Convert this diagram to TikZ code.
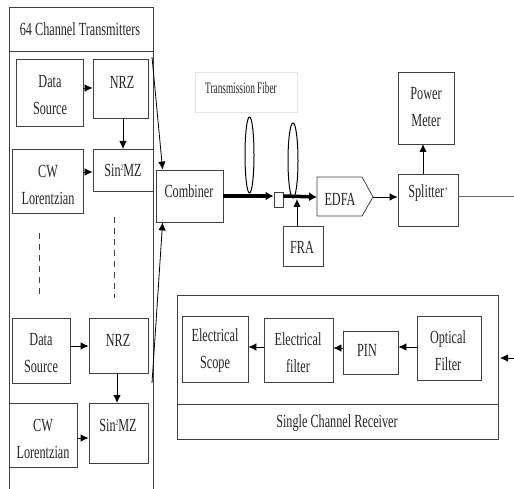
\documentclass[tikz,border=0pt]{standalone}
\usepackage{fontspec}
\setmainfont{Liberation Serif}
\newfontfamily\condfont[FakeStretch=0.66]{Liberation Serif}
\newfontfamily\smallcondfont[FakeStretch=0.58]{Liberation Serif}
\newcommand{\sqsup}{\raisebox{5.5pt}{\fontsize{8}{8}\selectfont 2}}
\usetikzlibrary{arrows.meta,calc}
\begin{document}
\begin{tikzpicture}[x=1pt,y=-1pt,
  box/.style={draw=black!75,line width=0.8pt,inner sep=0pt,fill=white},
  lbl/.style={inner sep=0pt,align=center,font=\condfont\fontsize{18.5}{27}\selectfont,text=black!85},
  arr/.style={draw=black,line width=0.8pt,-{Latex[length=8pt,width=7.5pt]}},
  thick arr/.style={draw=black,line width=3.5pt,-{Latex[length=8pt,width=9pt]}},
  dash line/.style={draw=black!75,line width=0.9pt,dash pattern=on 6pt off 5pt}]
\useasboundingbox (0,0) rectangle (514,489);
% transmitter frame
\draw[draw=black!75,line width=0.8pt] (9,489) -- (9,7) -- (153,7) -- (153,489);
\draw[draw=black!75,line width=0.8pt] (9,51) -- (153,51);
\node[lbl] (ttitle) at (80,29) {64 Channel Transmitters};
% channel 1
\node[box,minimum width=67pt,minimum height=67pt] (ds1) at (49.5,92.5) {};
\node[lbl] (ds1t) at (50,95) {Data\\Source};
\node[box,minimum width=55pt,minimum height=59pt] (nrz1) at (120.5,88.5) {};
\node[lbl] (nrz1t) at (122,82) {NRZ};
\node[box,minimum width=71pt,minimum height=64pt] (cw1) at (47.5,181) {};
\node[lbl] (cw1t) at (48,185) {CW\\Lorentzian};
\node[box,minimum width=60pt,minimum height=42pt] (mz1) at (123,170) {};
\node[lbl] (mz1t) at (123,170) {Sin\sqsup MZ};
\draw[arr] (ds1.east |- 0,88) -- (nrz1.west |- 0,88);
\draw[arr] (123,118) -- (123,149);
\draw[arr] (cw1.east |- 0,172) -- (mz1.west |- 0,172);
% dashed continuation
\draw[dash line] (39,233) -- (39,298);
\draw[dash line] (114,217) -- (114,298);
% channel 64
\node[box,minimum width=58pt,minimum height=65pt] (ds2) at (41,350.5) {};
\node[lbl] (ds2t) at (41,353.5) {Data\\Source};
\node[box,minimum width=59pt,minimum height=55pt] (nrz2) at (118.5,345.5) {};
\node[lbl] (nrz2t) at (118,340) {NRZ};
\node[box,minimum width=68pt,minimum height=64pt] (cw2) at (43,435) {};
\node[lbl] (cw2t) at (43,438.5) {CW\\Lorentzian};
\node[box,minimum width=59pt,minimum height=60pt] (mz2) at (118.5,433) {};
\node[lbl] (mz2t) at (118,425) {Sin\sqsup MZ};
\draw[arr] (ds2.east |- 0,346) -- (nrz2.west |- 0,346);
\draw[arr] (117,373) -- (117,403);
\draw[arr] (cw2.east |- 0,438) -- (mz2.west |- 0,438);
% combiner
\node[box,minimum width=67pt,minimum height=52pt] (comb) at (189.5,196) {};
\node[lbl] (combt) at (189,191) {Combiner};
\coordinate (up1) at (152,57);
\coordinate (lo1) at (152,383);
\draw[arr] (up1) -- ($(comb.north west)+(7,0)$);
\draw[arr] (lo1) -- ($(comb.south west)+(7,0)$);
% transmission fiber label
\node[draw=black!10,line width=0.6pt,minimum width=102pt,minimum height=40pt,inner sep=0pt] (tfbox) at (246,92) {};
\node[inner sep=0pt,font=\smallcondfont\fontsize{16}{18}\selectfont,text=black!85] (tft) at (241,88) {Transmission Fiber};
% fiber and coupler
\node[box,minimum width=9pt,minimum height=15pt] (cpl) at (278.5,199.5) {};
\node[inner sep=0pt] (ell1) at (249.5,155) {};
\node[inner sep=0pt] (ell2) at (293,160.5) {};
\draw[black,line width=1pt] (ell1) ellipse [x radius=4.5pt,y radius=38pt];
\draw[black,line width=1pt] (ell2) ellipse [x radius=5pt,y radius=37.5pt];
\coordinate (edfaW) at (317,197);
\coordinate (edfaE) at (373,197);
\draw[thick arr] (comb.east) -- (cpl.west |- comb.east);
\draw[thick arr] (cpl.east |- comb.east) -- (edfaW);
% FRA
\node[box,minimum width=40pt,minimum height=40pt] (fra) at (303,246) {};
\node[lbl] (frat) at (302,247) {FRA};
\draw[arr] (297,226) -- (297,199);
% EDFA
\draw[draw=black!75,line width=0.8pt,fill=white] (317,177) -- (362,177) -- (edfaE) -- (362,216) -- (317,216) -- cycle;
\node[lbl] (edfat) at (340,199) {EDFA};
% splitter and power meter
\node[box,minimum width=60pt,minimum height=52pt] (spl) at (428,200) {};
\node[lbl] (splt) at (428,193) {Splitter\kern0.5pt\raisebox{1pt}{\fontsize{13}{13}\selectfont\textquoteright}};
\node[box,minimum width=56pt,minimum height=72pt] (pm) at (426,108) {};
\node[lbl] (pmt) at (426,107) {Power\\Meter};
\draw[arr] (edfaE) -- (spl.west |- edfaE);
\draw[arr] (423,174) -- (423,144);
\coordinate (outR) at (514,196);
\draw[draw=black!60,line width=0.8pt] (spl.east |- outR) -- (outR);
% receiver
\node[box,minimum width=321pt,minimum height=109pt] (rx) at (337.5,349.5) {};
\node[box,minimum width=321pt,minimum height=35pt] (rxl) at (337.5,421.5) {};
\node[lbl] (rxlt) at (337,423) {Single Channel Receiver};
\node[box,minimum width=66pt,minimum height=66pt] (es) at (215,349) {};
\node[lbl] (est) at (215,351) {Electrical\\Scope};
\node[box,minimum width=69pt,minimum height=64pt] (ef) at (298.5,350) {};
\node[lbl] (eft) at (298,353) {Electrical\\filter};
\node[box,minimum width=55pt,minimum height=43pt] (pin) at (370.5,352.5) {};
\node[lbl] (pint) at (367,350) {PIN};
\node[box,minimum width=64pt,minimum height=64pt] (of) at (449,348) {};
\node[lbl] (oft) at (448,351) {Optical\\Filter};
\draw[arr] (of.west |- 0,347) -- (pin.east |- 0,347);
\draw[arr] (pin.west |- 0,348) -- (ef.east |- 0,348);
\draw[arr] (ef.west |- 0,347) -- (es.east |- 0,347);
\coordinate (inR) at (514,358);
\draw[arr] (inR) -- (500,358);
\end{tikzpicture}
\end{document}
